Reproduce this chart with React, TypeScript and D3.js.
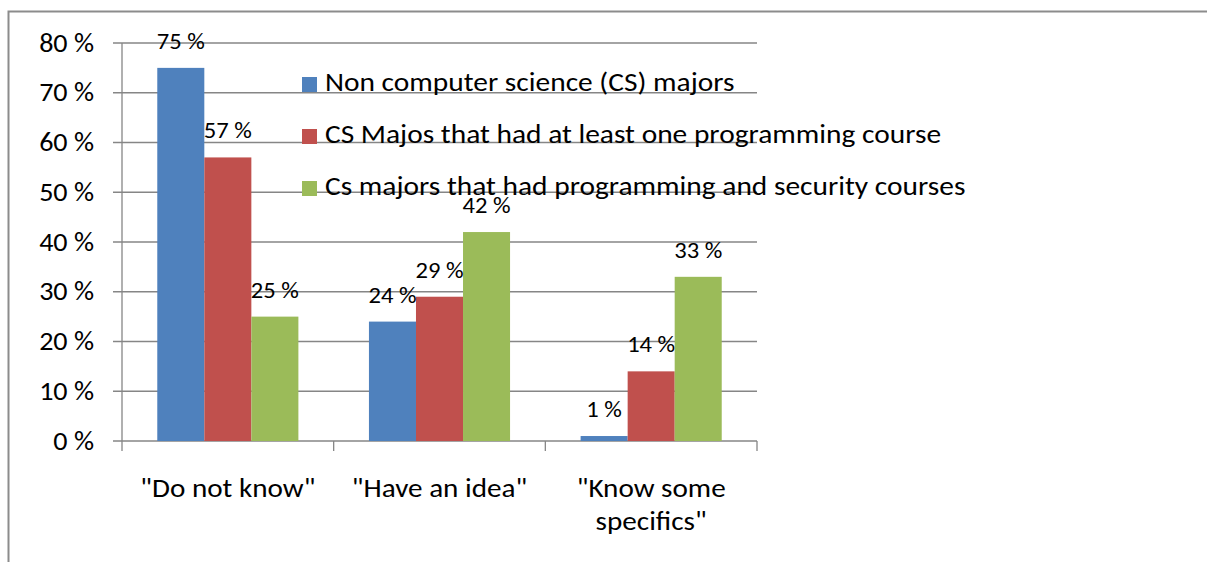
import React from "react";
import * as d3 from "d3";

const categories = ['"Do not know"', '"Have an idea"', '"Know some specifics"'];
const categoryLines = [['"Do not know"'], ['"Have an idea"'], ['"Know some', 'specifics"']];
const seriesNames = [
  "Non computer science (CS) majors",
  "CS Majos that had at least one programming course",
  "Cs majors that had programming and security courses",
];
const seriesColors = ["#4F81BD", "#C0504D", "#9BBB59"];
const nonCS = [75, 24, 1];
const csProg = [57, 29, 14];
const csSec = [25, 42, 33];
const seriesValues = [nonCS, csProg, csSec];
const yTicks = [0, 10, 20, 30, 40, 50, 60, 70, 80];

const FONT = "Carlito, 'Liberation Sans Narrow', 'DejaVu Sans Condensed', 'Open Sans', sans-serif";

function SText({ x, y, sx, size, anchor, children }: any) {
  return (
    <text transform={`translate(${x},${y}) scale(${sx},1)`} textAnchor={anchor} fontSize={size} fill="#000">
      {children}
    </text>
  );
}

export default function App() {
  const W = 1207, H = 562;
  const left = 122, right = 757, top = 43, bottom = 441;
  const y = d3.scaleLinear().domain([0, 80]).range([bottom, top]);
  const x = d3.scaleBand<string>().domain(categories).range([left, right]).paddingInner(0).paddingOuter(0);
  const inner = d3.scaleBand<string>().domain(seriesNames).range([0, x.bandwidth()]).paddingInner(0).paddingOuter(0.75);
  const gridColor = "#868686";

  return (
    <div style={{ position: "fixed", left: 0, top: 0 }}>
      <svg width={W} height={H} style={{ display: "block", background: "#fff" }} fontFamily={FONT}>
        <path d={`M8.5,${H} L8.5,11.5 L${W},11.5`} fill="none" stroke="#8c8c8c" strokeWidth={2} />
        {yTicks.map((t) => (
          <g key={t}>
            <line x1={113} x2={right} y1={y(t)} y2={y(t)} stroke={gridColor} strokeWidth={1.3} />
            <SText x={94} y={y(t) + 8.5} sx={1.04} size={27} anchor="end">
              {t} %
            </SText>
          </g>
        ))}
        <line x1={left} x2={left} y1={top} y2={bottom} stroke={gridColor} strokeWidth={1.3} />
        {[...categories.map((c) => x(c)!), right].map((tx, i) => (
          <line key={i} x1={tx} x2={tx} y1={bottom} y2={bottom + 10} stroke={gridColor} strokeWidth={1.3} />
        ))}
        {seriesValues.map((vals, si) =>
          vals.map((v, ci) => {
            const bx = x(categories[ci])! + inner(seriesNames[si])!;
            return (
              <rect key={`${si}-${ci}`} x={bx} y={y(v)} width={inner.bandwidth()} height={bottom - y(v)} fill={seriesColors[si]} />
            );
          })
        )}
        {seriesValues.map((vals, si) =>
          vals.map((v, ci) => {
            const cx = x(categories[ci])! + inner(seriesNames[si])! + inner.bandwidth() / 2;
            return (
              <SText key={`l${si}-${ci}`} x={cx} y={y(v) - 19} sx={1.07} size={23} anchor="middle">
                {v} %
              </SText>
            );
          })
        )}
        {categories.map((c, ci) =>
          categoryLines[ci].map((ln, li) => (
            <SText key={`${c}-${li}`} x={x(c)! + x.bandwidth() / 2} y={497 + li * 33} sx={1.08} size={27} anchor="middle">
              {ln}
            </SText>
          ))
        )}
        {seriesNames.map((s, i) => (
          <g key={s}>
            <rect x={302} y={77 + i * 52} width={15} height={15} fill={seriesColors[i]} />
            <SText x={325} y={90.7 + i * 52} sx={1.09} size={27} anchor="start">
              {s}
            </SText>
          </g>
        ))}
      </svg>
    </div>
  );
}
